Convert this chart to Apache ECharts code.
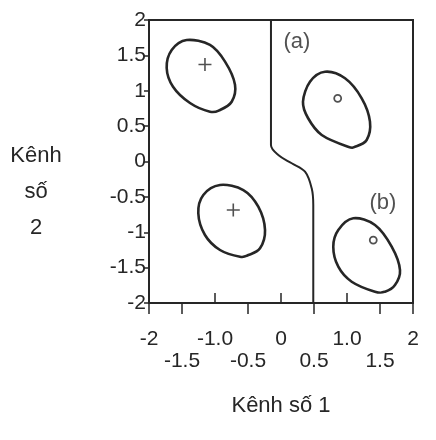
<!DOCTYPE html>
<html>
<head>
<meta charset="utf-8">
<script src="https://cdn.jsdelivr.net/npm/echarts@6/dist/echarts.min.js"></script>
<style>html,body{margin:0;padding:0;background:#fff}#c{width:436px;height:440px}</style>
</head>
<body>
<div id="c"></div>
<script>
// Tick values
var xTicksOuter = [-2, -1.5, -0.5, 0.5, 1.5, 2];
var xTicksInner = [-1, 0, 1];
var xLowerRow = [-1.5, -0.5, 0.5, 1.5];

// Decision boundary
var boundary = [[-0.152, 2], [-0.152, 1.0], [-0.152, 0.233], [-0.041, 0.092], [0.162, -0.025], [0.364, -0.144], [0.465, -0.379], [0.489, -0.615], [0.489, -1.2], [0.489, -2]];

// Cluster outlines (closed loops)
var cluster1 = [[-1.429, 1.717], [-1.076, 1.647], [-0.848, 1.411], [-0.697, 1.085], [-0.747, 0.845], [-0.924, 0.728], [-1.076, 0.704], [-1.379, 0.827], [-1.636, 1.057], [-1.732, 1.322], [-1.656, 1.576]];
var cluster2 = [[0.667, 1.269], [0.970, 1.176], [1.223, 0.893], [1.348, 0.563], [1.298, 0.304], [1.121, 0.209], [1.015, 0.209], [0.617, 0.375], [0.409, 0.615], [0.333, 0.845], [0.439, 1.128]];
var cluster3 = [[-0.924, -0.332], [-0.571, -0.403], [-0.344, -0.639], [-0.242, -0.968], [-0.318, -1.227], [-0.495, -1.322], [-0.621, -1.346], [-0.924, -1.251], [-1.152, -1.039], [-1.253, -0.732], [-1.177, -0.473]];
var cluster4 = [[1.095, -0.803], [1.424, -0.898], [1.677, -1.204], [1.803, -1.534], [1.727, -1.746], [1.576, -1.840], [1.424, -1.840], [1.071, -1.699], [0.868, -1.487], [0.792, -1.204], [0.868, -0.968]];

// Cluster centres
var plusCentres = [[-1.152, 1.371], [-0.723, -0.686]];
var circleCentres = [[0.859, 0.893], [1.398, -1.110]];

// Region labels
var regionLabels = [{name: '(a)', value: [0.24, 1.69]}, {name: '(b)', value: [1.545, -0.587]}];

var INK = '#262626';
var FONT = '"Liberation Sans", Arial, sans-serif';

function fmtX(v) {
  var s = (v === -1 || v === 1) ? v.toFixed(1) : String(v);
  return xLowerRow.indexOf(v) >= 0 ? '\n' + s : s;
}

// closed smooth outline through the read points (pixel positions from the axes)
function outline(pts) {
  return {
    type: 'custom', silent: true, z: 3, data: [0],
    renderItem: function (params, api) {
      var p = pts.map(function (d) { return api.coord(d); });
      var n = p.length, s = 'M' + p[0][0] + ',' + p[0][1];
      for (var i = 0; i < n; i++) {
        var a = p[(i - 1 + n) % n], b = p[i], c = p[(i + 1) % n], d = p[(i + 2) % n];
        var c1x = b[0] + (c[0] - a[0]) / 6, c1y = b[1] + (c[1] - a[1]) / 6;
        var c2x = c[0] - (d[0] - b[0]) / 6, c2y = c[1] - (d[1] - b[1]) / 6;
        s += 'C' + c1x + ',' + c1y + ',' + c2x + ',' + c2y + ',' + c[0] + ',' + c[1];
      }
      s += 'Z';
      return {type: 'path', shape: {pathData: s}, style: {fill: 'none', stroke: INK, lineWidth: 2.6}};
    }
  };
}

var chart = echarts.init(document.getElementById('c'), null, {renderer: 'canvas'});
chart.setOption({
  backgroundColor: '#fff',
  animation: false,
  grid: {left: 149, right: 23, top: 20, bottom: 137, show: true, borderColor: INK, borderWidth: 2, backgroundColor: 'transparent'},
  xAxis: [{
    type: 'value', min: -2, max: 2, interval: 0.5, position: 'bottom',
    splitLine: {show: false},
    axisLine: {onZero: false, lineStyle: {color: INK, width: 2}},
    axisTick: {show: true, inside: false, length: 11, lineStyle: {color: INK, width: 1.5}, customValues: xTicksOuter},
    axisLabel: {color: INK, fontSize: 21, fontFamily: FONT, margin: 25, lineHeight: 22, formatter: fmtX, showMinLabel: true, showMaxLabel: true},
    name: 'Kênh số 1', nameLocation: 'middle', nameGap: 92,
    nameTextStyle: {color: INK, fontSize: 22, fontFamily: FONT}
  }, {
    type: 'value', min: -2, max: 2, interval: 0.5, position: 'bottom',
    splitLine: {show: false}, axisLine: {show: false, onZero: false},
    axisTick: {show: true, inside: true, length: 10, lineStyle: {color: INK, width: 1.5}, customValues: xTicksInner},
    axisLabel: {show: false}
  }],
  yAxis: {
    type: 'value', min: -2, max: 2, interval: 0.5,
    splitLine: {show: false},
    axisLine: {onZero: false, lineStyle: {color: INK, width: 2}},
    axisTick: {show: true, length: 5, lineStyle: {color: INK, width: 1.5}},
    axisLabel: {color: INK, fontSize: 21, fontFamily: FONT, margin: 3, showMinLabel: true, showMaxLabel: true}
  },
  graphic: [{
    type: 'text', x: 36, y: 192, silent: true,
    style: {text: 'Kênh\nsố\n2', fill: INK, font: '22px ' + FONT, align: 'center', verticalAlign: 'middle', lineHeight: 36}
  }],
  series: [
    {type: 'line', data: boundary, smooth: 0.35, symbol: 'none', silent: true, lineStyle: {color: INK, width: 2}, z: 3},
    outline(cluster1), outline(cluster2), outline(cluster3), outline(cluster4),
    {type: 'scatter', data: plusCentres, symbol: 'path://M0,5L10,5M5,0L5,10', symbolSize: 13, silent: true,
     itemStyle: {color: 'none', borderColor: INK, borderWidth: 1.6}, z: 4},
    {type: 'scatter', data: circleCentres, symbol: 'circle', symbolSize: 7, silent: true,
     itemStyle: {color: '#fff', borderColor: INK, borderWidth: 1.8}, z: 4},
    {type: 'scatter', data: regionLabels, symbolSize: 0, silent: true,
     label: {show: true, position: 'inside', formatter: '{b}', color: INK, fontSize: 22, fontFamily: FONT}, z: 4}
  ]
});
</script>
</body>
</html>
